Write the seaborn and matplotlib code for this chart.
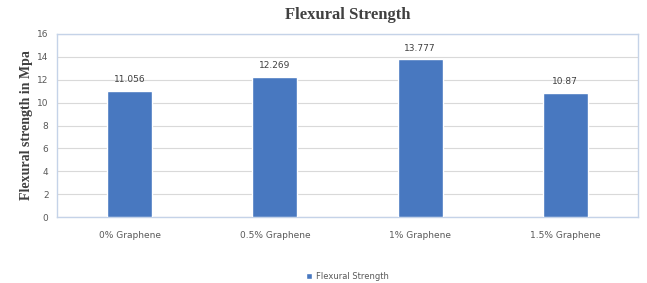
import matplotlib
matplotlib.use('Agg')
import matplotlib.pyplot as plt
import seaborn as sns
import pandas as pd

### chart values
categories = ['0% Graphene', '0.5% Graphene', '1% Graphene', '1.5% Graphene']
strength = [11.056, 12.269, 13.777, 10.87]
value_labels = ['11.056', '12.269', '13.777', '10.87']
series_name = 'Flexural Strength'

sns.set_style('white')
plt.rcParams['font.family'] = ['DejaVu Sans']

df = pd.DataFrame({'mix': categories, 'strength': strength, 'series': series_name})

fig = plt.figure(figsize=(6.47, 2.83), dpi=100)
ax = fig.add_axes([0.088, 0.233, 0.898, 0.647])

sns.barplot(data=df, x='mix', y='strength', hue='series', palette=['#4878c0'],
            saturation=1, width=0.31, ax=ax, zorder=3)

### value labels above each bar
for p, lab in zip(ax.patches, value_labels):
    ax.text(p.get_x() + p.get_width() / 2, p.get_height() + 0.55, lab,
            ha='center', va='bottom', fontsize=6.5, color='#404040')

ax.set_ylim(0, 16)
ax.set_yticks(range(0, 17, 2))
ax.yaxis.grid(True, color='#d9d9d9', linewidth=0.8, zorder=0)
ax.set_axisbelow(True)
ax.tick_params(axis='both', labelsize=6.5, colors='#595959', length=0, pad=6)
ax.tick_params(axis='x', pad=10)
for s in ax.spines.values():
    s.set_color('#c5d3e8')
    s.set_linewidth(1.0)

ax.set_xlabel('')
ax.set_ylabel('Flexural strength in Mpa', family='Liberation Serif', fontweight='bold',
              fontsize=10, color='#404040', labelpad=3)
ax.set_title('Flexural Strength', family='Liberation Serif', fontweight='bold',
             fontsize=12, color='#404040', pad=11)

leg = ax.legend(loc='upper center', bbox_to_anchor=(0.5, -0.26), frameon=False,
                fontsize=6, handlelength=0.7, handleheight=0.7, handletextpad=0.4)
for t in leg.get_texts():
    t.set_color('#595959')

fig.savefig('out.png', dpi=100)
